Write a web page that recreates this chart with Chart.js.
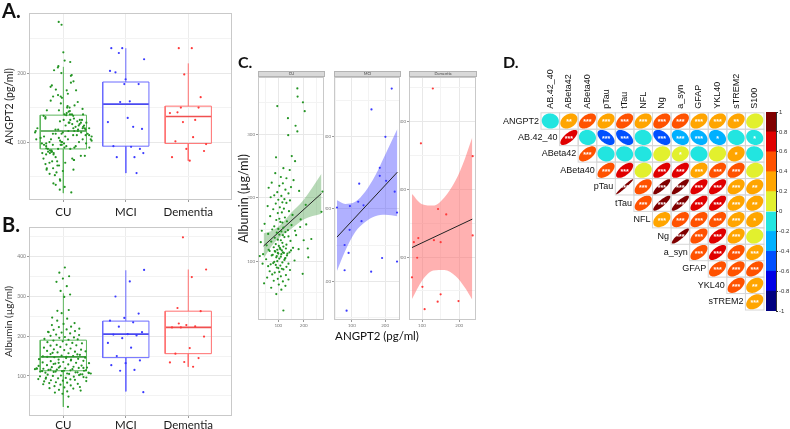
<!DOCTYPE html>
<html>
<head>
<meta charset="utf-8">
<title>ANGPT2, albumin and CSF markers</title>
<script src="https://cdn.jsdelivr.net/npm/chart.js@4.4.1/dist/chart.umd.min.js"></script>
<style>
  body { margin: 0; background: #ffffff; }
  #fig { position: relative; width: 790px; height: 429px; overflow: hidden; font-family: Lato, "Open Sans", sans-serif; color: #111; }
  #fig canvas, #fig .txt, #fig .strip { position: absolute; }
  .letter { font-weight: 700; }
  .strip { background: #d9d9d9; border: 1px solid #b3b3b3; box-sizing: border-box; font-size: 4px; line-height: 4px; text-align: center; color: #444; overflow: hidden; }
</style>
</head>
<body>
<div id="fig">
  <canvas id="chartA" width="240" height="222" style="left:0px;top:0px"></canvas>
  <canvas id="chartB" width="240" height="219" style="left:0px;top:210px"></canvas>
  <canvas id="chartC1" width="92" height="262" style="left:236px;top:70px"></canvas>
  <canvas id="chartC2" width="79" height="262" style="left:325px;top:70px"></canvas>
  <canvas id="chartC3" width="80" height="262" style="left:400px;top:70px"></canvas>
  <canvas id="chartD" width="300" height="260" style="left:490px;top:60px"></canvas>
  <canvas id="chartLegend" width="40" height="222" style="left:750px;top:100px"></canvas>

  <div class="txt letter" style="left:2px;top:0px;font-size:20px;line-height:20px">A.</div>
  <div class="txt letter" style="left:2px;top:214px;font-size:20px;line-height:20px">B.</div>
  <div class="txt letter" style="left:238px;top:54px;font-size:16px;line-height:16px">C.</div>
  <div class="txt letter" style="left:503px;top:54px;font-size:16px;line-height:16px">D.</div>

  <div class="strip" style="left:258px;top:71px;width:67px;height:6px">CU</div>
  <div class="strip" style="left:334px;top:71px;width:67px;height:6px">MCI</div>
  <div class="strip" style="left:409px;top:71px;width:68px;height:6px">Dementia</div>
  <div class="txt" style="left:317px;top:329px;width:120px;text-align:center;font-size:11.5px;line-height:13px">ANGPT2 (pg/ml)</div>
</div>

<script>
Chart.defaults.font.family = 'Lato';

const groups = ['CU', 'MCI', 'Dementia'];

// CU subjects: ANGPT2 (pg/ml) and albumin (ug/ml), same order in both lists
const cuAngpt2 = [
    175, 176, 197, 96, 204, 138, 168, 175, 139, 91,
    153, 166, 120, 145, 88, 110, 132, 160, 74, 118,
    104, 150, 62, 128, 96, 182, 140, 84, 112, 124,
    70, 100, 146, 116, 90, 208, 132, 58, 106, 122,
    270, 80, 142, 98, 114, 156, 68, 126, 104, 188,
    92, 134, 116, 46, 108, 152, 84, 120, 100, 138,
    76, 112, 128, 94, 166, 60, 118, 104, 140, 86,
    124, 230, 98, 110, 72, 148, 116, 90, 132, 102,
    54, 120, 82, 158, 108, 96, 130, 66, 114, 144,
    88, 122, 100, 40, 134, 78, 110, 218, 94, 126,
    106, 62, 150, 86, 118, 98, 136, 74, 112, 92,
    128, 52, 104, 164, 84, 116, 96, 140, 70, 108,
    124, 90, 60, 132, 100, 80, 114, 146, 94, 66,
    120, 104, 86, 196, 130, 76, 110, 56, 98, 140,
    82, 118, 44, 102, 128, 72, 216, 112, 274, 92,
    31, 27, 35, 38, 186, 200, 180, 170, 210, 120
];
const cuAlbumin = [
    373, 360, 351, 345, 337, 326, 314, 305, 299, 264,
    266, 258, 247, 244, 239, 233, 231, 228, 224, 223,
    219, 217, 216, 213, 209, 211, 207, 204, 203, 198,
    201, 197, 196, 193, 191, 189, 192, 187, 185, 183,
    178, 182, 179, 176, 177, 173, 171, 169, 167, 166,
    165, 163, 161, 159, 162, 157, 155, 153, 151, 149,
    150, 147, 146, 145, 148, 143, 141, 142, 139, 137,
    138, 135, 134, 133, 131, 132, 129, 127, 126, 124,
    125, 123, 122, 121, 119, 118, 120, 116, 117, 114,
    115, 113, 112, 111, 109, 110, 107, 106, 108, 104,
    121, 118, 117, 116, 114, 113, 112, 109, 111, 106,
    105, 103, 104, 101, 99, 98, 100, 96, 95, 93,
    102, 94, 92, 91, 89, 97, 88, 86, 90, 84,
    87, 83, 82, 80, 78, 79, 76, 74, 72, 71,
    69, 68, 65, 63, 61, 58, 120, 55, 210, 48,
    130, 108, 148, 96, 154, 133, 119, 141, 158, 22
];
const mciAngpt2 = [220, 159, 201, 184, 184, 203, 122, 229, 119, 135, 94, 55, 236, 129, 93, 78, 90, 191, 236, 78, 158, 84];
const mciAlbumin = [367, 338, 300, 257, 246, 239, 235, 224, 210, 205, 204, 202, 195, 183, 171, 150, 139, 132, 127, 115, 113, 59];
const demAngpt2 = [129, 97, 236, 143, 165, 90, 78, 132, 150, 87, 73, 101, 150, 198, 142, 107, 236];
const demAlbumin = [449, 368, 349, 271, 263, 228, 222, 225, 222, 199, 170, 156, 145, 135, 134, 123, 232];

// box statistics (CU, MCI, Dementia)
const angLow = [26, 55, 73];
const angQ1 = [90, 94, 98];
const angMed = [116, 155, 137];
const angQ3 = [139, 187, 152];
const angHigh = [209, 236, 214];

const albLow = [22, 61, 123];
const albQ1 = [113, 146, 156];
const albMed = [148, 205, 222];
const albQ3 = [190, 238, 263];
const albHigh = [308, 366, 368];

// panel A / B axis ticks
const angGrid = [50, 100, 150, 200, 250];
const angTicks = [100, 200];
const albGrid = [50, 100, 150, 200, 250, 300, 350, 400, 450];
const albTicks = [100, 200, 300, 400];

// panel C linear fits with 95% band
const cuLineX = [42, 270];
const cuLineY = [124, 207];
const cuBandX = [42, 80, 115, 150, 200, 270];
const cuBandLo = [104, 127, 141, 151, 166, 175];
const cuBandHi = [144, 149, 160, 176, 197, 238];

const mciLineX = [55, 237];
const mciLineY = [161, 251];
const mciBandX = [55, 80, 110, 140, 170, 200, 237];
const mciBandLo = [114, 142, 168, 182, 190, 192, 190];
const mciBandHi = [212, 207, 210, 224, 246, 275, 311];

const demLineX = [73, 235];
const demLineY = [214, 256];
const demBandX = [73, 100, 130, 160, 190, 215, 235];
const demBandLo = [138, 165, 180, 181, 172, 155, 137];
const demBandHi = [293, 278, 276, 288, 313, 345, 377];

// panel C ticks
const cuXGrid = [50, 100, 150, 200, 250];
const cuYGrid = [50, 100, 150, 200, 250, 300, 350];
const mciXGrid = [50, 100, 150, 200];
const mciYGrid = [50, 100, 150, 200, 250, 300, 350];
const demXGrid = [100, 150, 200];
const demYGrid = [150, 200, 250, 300, 350, 400, 450];
const facetTicks = [100, 200, 300, 400];

// panel D correlations (upper triangle, row by row)
const corrVars = ['ANGPT2', 'AB.42_40', 'ABeta42', 'ABeta40', 'pTau', 'tTau', 'NFL', 'Ng', 'a_syn', 'GFAP', 'YKL40', 'sTREM2', 'S100'];
const corrR = [
    [-0.05, 0.30, 0.45, 0.35, 0.42, 0.33, 0.42, 0.43, 0.38, 0.36, 0.30, 0.12],
    [0.70, -0.05, -0.52, -0.50, -0.08, -0.46, -0.30, -0.28, -0.25, -0.10, -0.12],
    [0.55, -0.05, -0.06, -0.08, 0.12, 0.15, -0.05, 0.10, 0.22, -0.08],
    [0.55, 0.63, 0.15, 0.63, 0.62, 0.38, 0.50, 0.45, 0.15],
    [0.97, 0.50, 0.85, 0.85, 0.65, 0.65, 0.38, 0.30],
    [0.50, 0.85, 0.85, 0.65, 0.65, 0.38, 0.30],
    [0.38, 0.50, 0.50, 0.50, 0.38, 0.30],
    [0.88, 0.55, 0.62, 0.38, 0.12],
    [0.55, 0.65, 0.45, 0.36],
    [0.50, 0.50, 0.48],
    [0.50, 0.32],
    [0.35]
];
const corrSig = [
    ['', '**', '***', '***', '***', '***', '***', '***', '***', '***', '**', ''],
    ['***', '', '***', '***', '', '***', '***', '***', '*', '', '*'],
    ['***', '', '', '', '', '*', '', '', '*', ''],
    ['***', '***', '', '***', '***', '***', '***', '***', ''],
    ['***', '***', '***', '***', '***', '***', '***', '**'],
    ['***', '***', '***', '***', '***', '***', '**'],
    ['***', '***', '***', '***', '***', '*'],
    ['***', '***', '***', '***', ''],
    ['***', '***', '***', '***'],
    ['***', '***', '***'],
    ['***', '**'],
    ['***']
];
const legendBreaks = [-1, -0.8, -0.6, -0.4, -0.2, 0, 0.2, 0.4, 0.6, 0.8, 1];
const corrPalette = ['#00007F', '#0000E6', '#0050FF', '#00B0FF', '#22E5E0', '#E2F02E', '#FFA500', '#FF5200', '#E00000', '#800000'];

const pointColors = ['#239423', '#3a3aff', '#ff3a3a'];
const boxColors = ['#5db65d', '#6a6aff', '#ff6f6f'];
const medColors = ['#3c9a3c', '#4a4af0', '#f05050'];

// quasi-random horizontal spread, wider where values are dense
function jitter(vals, half, bw, shift) {
    const dens = vals.map(v => vals.reduce((s, w) => s + Math.exp(-0.5 * Math.pow((v - w) / (bw || 1), 2)), 0));
    const top = Math.max(...dens);
    return vals.map((v, k) => {
        const u = ((k + 1) * 0.6180339887 + shift) % 1;
        const f = bw ? Math.max(0.1, Math.sqrt(dens[k] / top)) : 1;
        return (2 * u - 1) * half * f;
    });
}

const panelBorder = {
    id: 'panelBorder',
    beforeDatasetsDraw(chart) {
        const { ctx, chartArea: a } = chart;
        ctx.save();
        ctx.strokeStyle = '#c9c9c9';
        ctx.lineWidth = 1;
        ctx.strokeRect(Math.round(a.left) + 0.5, Math.round(a.top) + 0.5, Math.round(a.width) - 1, Math.round(a.height) - 1);
        ctx.restore();
    }
};

function gridCol(major) {
    return c => (c.tick && major.includes(c.tick.value)) ? '#e8e8e8' : '#f3f3f3';
}
function tickCol(major) {
    return c => (c.tick && major.includes(c.tick.value)) ? '#9a9a9a' : 'rgba(0,0,0,0)';
}

function boxChart(id, lists, low, q1, med, q3, high, cfg) {
    const datasets = [];
    lists.forEach((vals, i) => {
        const offs = jitter(vals, i === 0 ? 0.46 : 0.3, i === 0 ? cfg.bw : 0, i * 0.37);
        datasets.push({
            data: vals.map((v, k) => ({ x: i + 1 + offs[k], y: v })),
            backgroundColor: pointColors[i], pointRadius: 1.1, borderWidth: 0
        });
    });
    groups.forEach((g, i) => {
        const c = i + 1, w = 0.37;
        datasets.push({
            data: [
                { x: c - w, y: q1[i] }, { x: c + w, y: q1[i] }, { x: c + w, y: q3[i] }, { x: c - w, y: q3[i] }, { x: c - w, y: q1[i] },
                { x: c, y: null },
                { x: c, y: q3[i] }, { x: c, y: high[i] },
                { x: c, y: null },
                { x: c, y: q1[i] }, { x: c, y: low[i] }
            ],
            showLine: true, spanGaps: false, borderColor: boxColors[i], borderWidth: 1, pointRadius: 0
        });
        datasets.push({
            data: [{ x: c - w, y: med[i] }, { x: c + w, y: med[i] }],
            showLine: true, borderColor: medColors[i], borderWidth: 1.7, pointRadius: 0
        });
    });

    return new Chart(document.getElementById(id), {
        type: 'scatter',
        data: { datasets: datasets },
        options: {
            responsive: false, animation: false, events: [],
            layout: { padding: { top: cfg.padTop, right: 8 } },
            plugins: { legend: { display: false }, tooltip: { enabled: false } },
            scales: {
                x: {
                    type: 'linear', min: 0.45, max: 3.7,
                    afterBuildTicks: a => { a.ticks = groups.map((g, i) => ({ value: i + 1 })); },
                    ticks: { callback: v => groups[v - 1], font: { size: 11.5 }, color: '#1a1a1a', padding: cfg.xPad, maxRotation: 0, autoSkip: false },
                    grid: { color: '#ececec', tickLength: 2, tickColor: '#9a9a9a' },
                    border: { display: false },
                    afterFit: a => { a.height = cfg.xHeight; }
                },
                y: {
                    min: cfg.yMin, max: cfg.yMax,
                    afterBuildTicks: a => { a.ticks = cfg.grid.map(v => ({ value: v })); },
                    ticks: { callback: v => cfg.ticks.includes(v) ? String(v) : '', font: { size: 5 }, color: '#7a7a7a', padding: 1 },
                    grid: { color: gridCol(cfg.ticks), tickLength: 2, tickColor: tickCol(cfg.ticks) },
                    border: { display: false },
                    title: { display: true, text: cfg.title, font: { size: cfg.titleSize }, color: '#222', padding: { top: 3, bottom: 0 } },
                    afterFit: a => { a.width = 29; }
                }
            }
        },
        plugins: [panelBorder]
    });
}

boxChart('chartA', [cuAngpt2, mciAngpt2, demAngpt2], angLow, angQ1, angMed, angQ3, angHigh,
    { bw: 12, padTop: 13, xHeight: 22, xPad: 3, yMin: 16, yMax: 287, grid: angGrid, ticks: angTicks, title: 'ANGPT2 (pg/ml)', titleSize: 10.5 });
boxChart('chartB', [cuAlbumin, mciAlbumin, demAlbumin], albLow, albQ1, albMed, albQ3, albHigh,
    { bw: 20, padTop: 17, xHeight: 13, xPad: 0, yMin: -1, yMax: 475, grid: albGrid, ticks: albTicks, title: 'Albumin (\u00b5g/ml)', titleSize: 10 });

function facetChart(id, f) {
    return new Chart(document.getElementById(id), {
        type: 'scatter',
        data: {
            datasets: [
                { data: f.xs.map((x, k) => ({ x: x, y: f.ys[k] })), backgroundColor: f.color, pointRadius: 1.1, borderWidth: 0 },
                { data: f.lineX.map((x, k) => ({ x: x, y: f.lineY[k] })), showLine: true, borderColor: '#222', borderWidth: 1, pointRadius: 0 },
                { data: f.bandX.map((x, k) => ({ x: x, y: f.bandLo[k] })), showLine: true, borderColor: 'rgba(0,0,0,0)', pointRadius: 0, cubicInterpolationMode: 'monotone' },
                { data: f.bandX.map((x, k) => ({ x: x, y: f.bandHi[k] })), showLine: true, borderColor: 'rgba(0,0,0,0)', pointRadius: 0, cubicInterpolationMode: 'monotone', fill: '-1', backgroundColor: f.band }
            ]
        },
        options: {
            responsive: false, animation: false, events: [],
            layout: { padding: { top: 7, right: 3 } },
            plugins: { legend: { display: false }, tooltip: { enabled: false } },
            scales: {
                x: {
                    min: f.xMin, max: f.xMax,
                    afterBuildTicks: a => { a.ticks = f.xGrid.map(v => ({ value: v })); },
                    ticks: { callback: v => facetTicks.includes(v) ? String(v) : '', font: { size: 4.5 }, color: '#7a7a7a', padding: 1, maxRotation: 0, autoSkip: false },
                    grid: { color: gridCol(facetTicks), tickLength: 2, tickColor: tickCol(facetTicks) },
                    border: { display: false },
                    afterFit: a => { a.height = 12; }
                },
                y: {
                    min: f.yMin, max: f.yMax,
                    afterBuildTicks: a => { a.ticks = f.yGrid.map(v => ({ value: v })); },
                    ticks: { callback: v => facetTicks.includes(v) ? String(v) : '', font: { size: 4.5 }, color: '#7a7a7a', padding: 1 },
                    grid: { color: gridCol(facetTicks), tickLength: 2, tickColor: tickCol(facetTicks) },
                    border: { display: false },
                    title: { display: !!f.title, text: f.title || '', font: { size: 12.5 }, color: '#222', padding: { top: 0, bottom: 0 } },
                    afterFit: a => { a.width = f.yW; }
                }
            }
        },
        plugins: [panelBorder]
    });
}

facetChart('chartC1', {
    xs: cuAngpt2, ys: cuAlbumin, color: pointColors[0], band: 'rgba(75,160,75,0.4)',
    lineX: cuLineX, lineY: cuLineY, bandX: cuBandX, bandLo: cuBandLo, bandHi: cuBandHi,
    xMin: 20, xMax: 280, yMin: 7, yMax: 391, xGrid: cuXGrid, yGrid: cuYGrid, yW: 22, title: 'Albumin (\u00b5g/ml)'
});
facetChart('chartC2', {
    xs: mciAngpt2, ys: mciAlbumin, color: pointColors[1], band: 'rgba(80,80,255,0.45)',
    lineX: mciLineX, lineY: mciLineY, bandX: mciBandX, bandLo: mciBandLo, bandHi: mciBandHi,
    xMin: 46, xMax: 245, yMin: 46, yMax: 383, xGrid: mciXGrid, yGrid: mciYGrid, yW: 9
});
facetChart('chartC3', {
    xs: demAngpt2, ys: demAlbumin, color: pointColors[2], band: 'rgba(255,100,100,0.5)',
    lineX: demLineX, lineY: demLineY, bandX: demBandX, bandLo: demBandLo, bandHi: demBandHi,
    xMin: 65, xMax: 245, yMin: 107, yMax: 466, xGrid: demXGrid, yGrid: demYGrid, yW: 9
});

function corrColor(r) {
    return corrPalette[Math.max(0, Math.min(9, Math.floor((r + 1) / 0.2)))];
}

const corrPlot = {
    id: 'corrPlot',
    beforeDatasetsDraw(chart) {
        const { ctx } = chart;
        const xs = chart.scales.x, ys = chart.scales.y;
        const cw = xs.getPixelForValue(1) - xs.getPixelForValue(0);
        const ch = ys.getPixelForValue(1) - ys.getPixelForValue(0);
        ctx.save();
        ctx.strokeStyle = '#d6d6d6';
        ctx.lineWidth = 1;
        chart.getDatasetMeta(0).data.forEach(p => ctx.strokeRect(p.x - cw / 2, p.y - ch / 2, cw, ch));
        ctx.restore();
    },
    afterDatasetsDraw(chart) {
        const { ctx } = chart;
        const raw = chart.data.datasets[0].data;
        const xs = chart.scales.x, ys = chart.scales.y;
        const cw = xs.getPixelForValue(1) - xs.getPixelForValue(0);
        const ch = ys.getPixelForValue(1) - ys.getPixelForValue(0);
        ctx.save();
        chart.getDatasetMeta(0).data.forEach((p, n) => {
            const r = raw[n].r;
            const d = Math.acos(r);
            ctx.beginPath();
            for (let k = 0; k <= 64; k++) {
                const t = k / 64 * 2 * Math.PI;
                const ex = p.x + Math.cos(t + d / 2) * cw * 0.46;
                const ey = p.y - Math.cos(t - d / 2) * ch * 0.46;
                if (k === 0) ctx.moveTo(ex, ey); else ctx.lineTo(ex, ey);
            }
            ctx.closePath();
            ctx.fillStyle = corrColor(r);
            ctx.fill();
            if (raw[n].sig) {
                ctx.fillStyle = '#ffffff';
                ctx.font = 'bold 7px "Liberation Sans", Arial, sans-serif';
                ctx.textAlign = 'center';
                ctx.textBaseline = 'middle';
                ctx.fillText(raw[n].sig, p.x, p.y + 1.5);
            }
        });
        ctx.restore();
    },
    afterDraw(chart) {
        const { ctx } = chart;
        const xs = chart.scales.x, ys = chart.scales.y;
        ctx.save();
        ctx.fillStyle = '#111';
        ctx.font = '9px "Liberation Sans", Arial, sans-serif';
        ctx.textBaseline = 'middle';
        ctx.textAlign = 'right';
        corrR.forEach((row, i) => ctx.fillText(corrVars[i], xs.getPixelForValue(i - 0.5) - 2, ys.getPixelForValue(i)));
        ctx.textAlign = 'left';
        const top = ys.getPixelForValue(-0.5) - 4;
        corrVars.slice(1).forEach((name, j) => {
            ctx.save();
            ctx.translate(xs.getPixelForValue(j), top);
            ctx.rotate(-Math.PI / 2);
            ctx.fillText(name, 0, 0);
            ctx.restore();
        });
        ctx.restore();
    }
};

const corrPoints = [];
corrR.forEach((row, i) => row.forEach((r, k) => corrPoints.push({ x: i + k, y: i, r: r, sig: corrSig[i][k] })));

new Chart(document.getElementById('chartD'), {
    type: 'scatter',
    data: { datasets: [{ data: corrPoints, pointRadius: 0, pointHoverRadius: 0 }] },
    options: {
        responsive: false, animation: false, events: [],
        layout: { padding: { left: 51, top: 52.8, right: 26, bottom: 10 } },
        plugins: { legend: { display: false }, tooltip: { enabled: false } },
        scales: {
            x: { type: 'linear', min: -0.5, max: 11.5, display: false },
            y: { type: 'linear', min: -0.5, max: 11.5, reverse: true, display: false }
        }
    },
    plugins: [corrPlot]
});

new Chart(document.getElementById('chartLegend'), {
    type: 'bar',
    data: {
        labels: [''],
        datasets: corrPalette.map((c, k) => ({
            data: [[legendBreaks[k], legendBreaks[k + 1]]],
            backgroundColor: c, borderWidth: 0, barPercentage: 1, categoryPercentage: 1, grouped: false
        }))
    },
    options: {
        responsive: false, animation: false, events: [],
        layout: { padding: { left: 16, top: 12, bottom: 11 } },
        plugins: { legend: { display: false }, tooltip: { enabled: false } },
        scales: {
            x: { display: false },
            y: {
                position: 'right', min: -1, max: 1,
                afterBuildTicks: a => { a.ticks = legendBreaks.map(v => ({ value: v })); },
                ticks: { callback: v => String(Math.round(v * 10) / 10), font: { size: 6, family: '"Liberation Sans", Arial, sans-serif' }, color: '#333', padding: 1 },
                grid: { drawOnChartArea: false, tickLength: 2, color: '#333' },
                border: { display: true, color: '#333' },
                afterFit: a => { a.width = 14; }
            }
        }
    }
});
</script>
</body>
</html>
